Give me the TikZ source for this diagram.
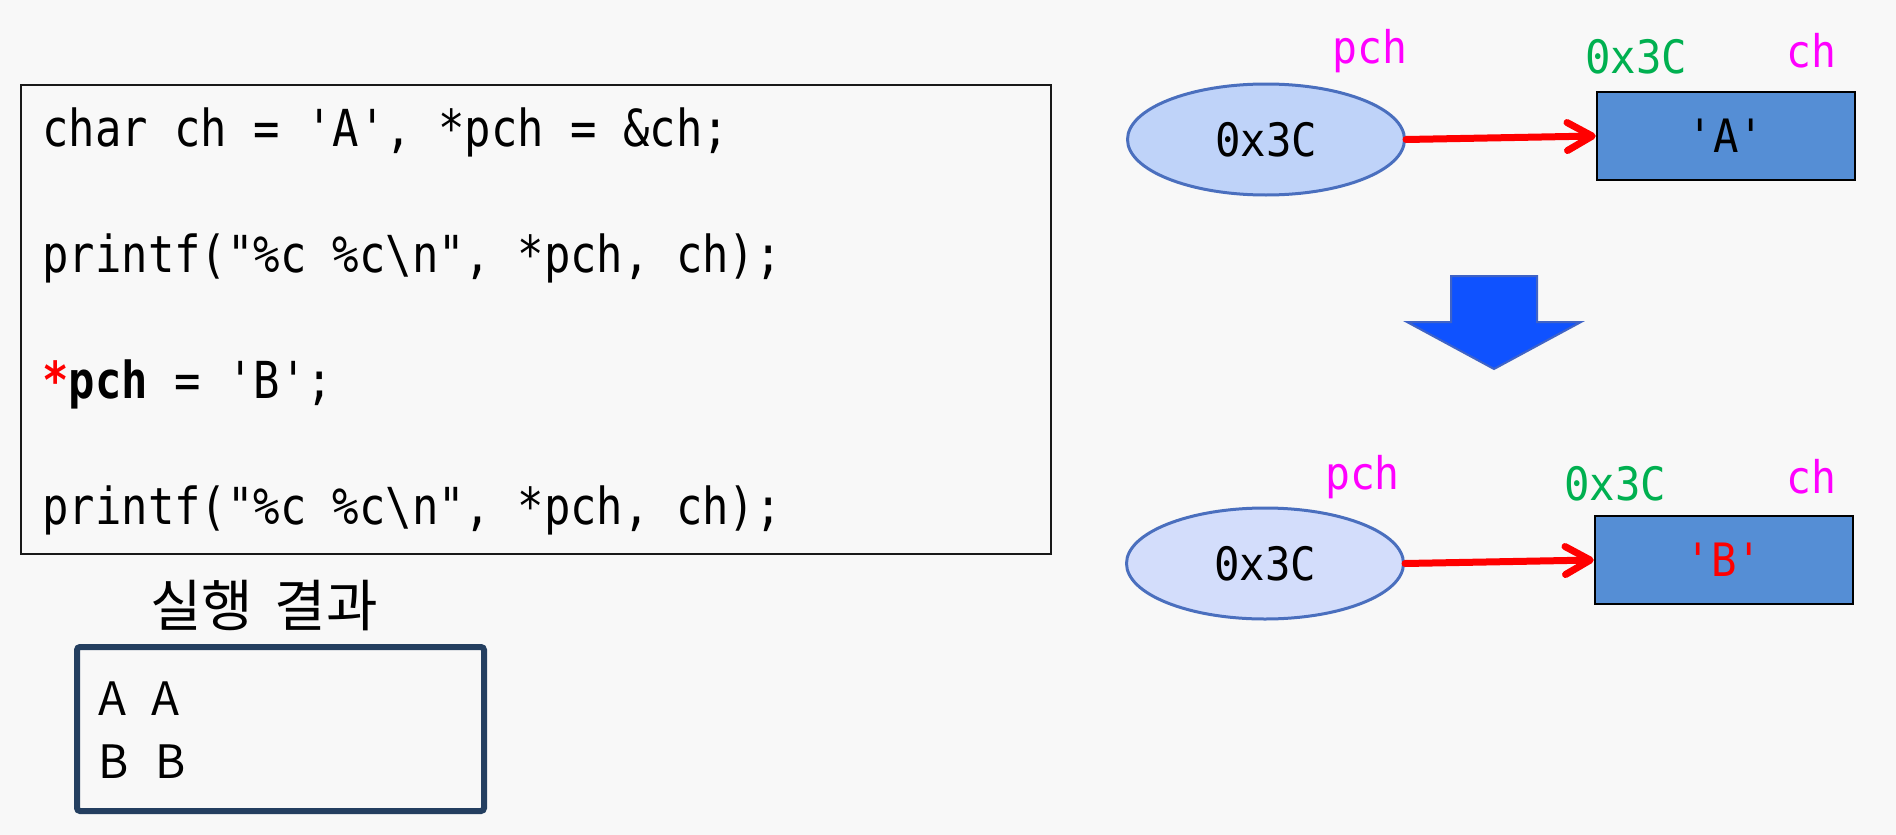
\documentclass[tikz,border=0pt]{standalone}
\usepackage{fontspec}
\usetikzlibrary{arrows.meta,shapes.geometric}
\newfontfamily\codefont[FakeStretch=0.86,Ligatures=TeXOff]{DejaVu Sans Mono}
\newfontfamily\valfont[FakeStretch=0.92,Ligatures=TeXOff]{DejaVu Sans Mono}
\newfontfamily\krfont{Noto Sans CJK KR}
\definecolor{bgc}{HTML}{F8F8F8}
\definecolor{ellborder}{HTML}{4A6FBE}
\definecolor{ellfillA}{HTML}{BFD3F9}
\definecolor{ellfillB}{HTML}{D3DDFB}
\definecolor{cellfill}{HTML}{558ED5}
\definecolor{bigblue}{HTML}{0F52FF}
\definecolor{bigblueedge}{HTML}{3F63C6}
\definecolor{navy}{HTML}{243F60}
\definecolor{mag}{HTML}{FF00FF}
\definecolor{grn}{HTML}{00B050}
\begin{document}
\begin{tikzpicture}[x=0.5pt,y=-0.5pt,
  codebox/.style={draw=black!90, line width=1pt, inner sep=0pt},
  codeline/.style={anchor=base west, inner sep=0pt, font=\codefont\fontsize{25.5pt}{30pt}\selectfont},
  krtitle/.style={inner sep=0pt, font=\krfont\fontsize{28pt}{32pt}\selectfont},
  outbox/.style={draw=navy, line width=3pt, rounded corners=1.5pt, inner sep=0pt},
  outtext/.style={anchor=base west, inner sep=0pt, font=\krfont\fontsize{23pt}{28pt}\selectfont},
  ptrcell/.style={ellipse, draw=ellborder, line width=1.5pt, minimum width=138.5pt, minimum height=55.5pt, inner sep=0pt, font=\valfont\fontsize{23pt}{28pt}\selectfont},
  valcell/.style={rectangle, draw=black, line width=1.25pt, fill=cellfill, minimum width=129pt, minimum height=44pt, inner sep=0pt, font=\valfont\fontsize{23pt}{28pt}\selectfont},
  namelbl/.style={anchor=base, inner sep=0pt, text=mag, font=\valfont\fontsize{22.5pt}{26pt}\selectfont},
  addrlbl/.style={anchor=base, inner sep=0pt, text=grn, font=\valfont\fontsize{23pt}{28pt}\selectfont},
  ptr/.style={draw=red, line width=3.5pt, line cap=round, -{Straight Barb[length=12.5pt,width=14pt,line cap=round,line join=round]}},
  bigarrow/.style={fill=bigblue, draw=bigblueedge, line width=1pt}
]
\useasboundingbox (0,0) rectangle (1896,835);
\fill[bgc] (0,0) rectangle (1896,835);

% code box
\node[codebox, minimum width=515pt, minimum height=234.5pt] (code) at (536,319.5) {};
\node[codeline] (l1) at (42,146) {char ch = 'A', *pch = \&ch;};
\node[codeline] (l2) at (42,272) {printf("\%c \%c\textbackslash n", *pch, ch);};
\node[codeline] (l3) at (42,398) {{\color{red}\bfseries *}{\bfseries pch} = 'B';};
\node[codeline] (l4) at (42,524) {printf("\%c \%c\textbackslash n", *pch, ch);};

% output
\node[krtitle] (title) at (264,606) {실행\hspace{10.5pt}결과};
\node[outbox, minimum width=203.5pt, minimum height=82pt] (out) at (280.5,729) {};
\node[outtext] (o1) at (98,715) {A\hspace{12.5pt}A};
\node[outtext] (o2) at (98,778) {B\hspace{13.5pt}B};

% top diagram
\node[ptrcell, fill=ellfillA] (e1) at (1266,139.5) {0x3C};
\node[valcell] (r1) at (1726,136) {'A'};
\node[namelbl] (n1) at (1370,63) {pch};
\node[addrlbl] (a1) at (1636,73) {0x3C};
\node[namelbl] (c1) at (1811.5,67) {ch};
\draw[ptr] (e1.east) -- (r1.west);

% big arrow
\draw[bigarrow] (1451,276) -- (1537,276) -- (1537,322) -- (1581,322) -- (1494,369) -- (1407,322) -- (1451,322) -- cycle;

% bottom diagram
\node[ptrcell, fill=ellfillB] (e2) at (1265,563.5) {0x3C};
\node[valcell, text=red] (r2) at (1724,560) {'B'};
\node[namelbl] (n2) at (1362.5,489) {pch};
\node[addrlbl] (a2) at (1615,500) {0x3C};
\node[namelbl] (c2) at (1811.5,493) {ch};
\draw[ptr] (e2.east) -- (r2.west);
\end{tikzpicture}
\end{document}
